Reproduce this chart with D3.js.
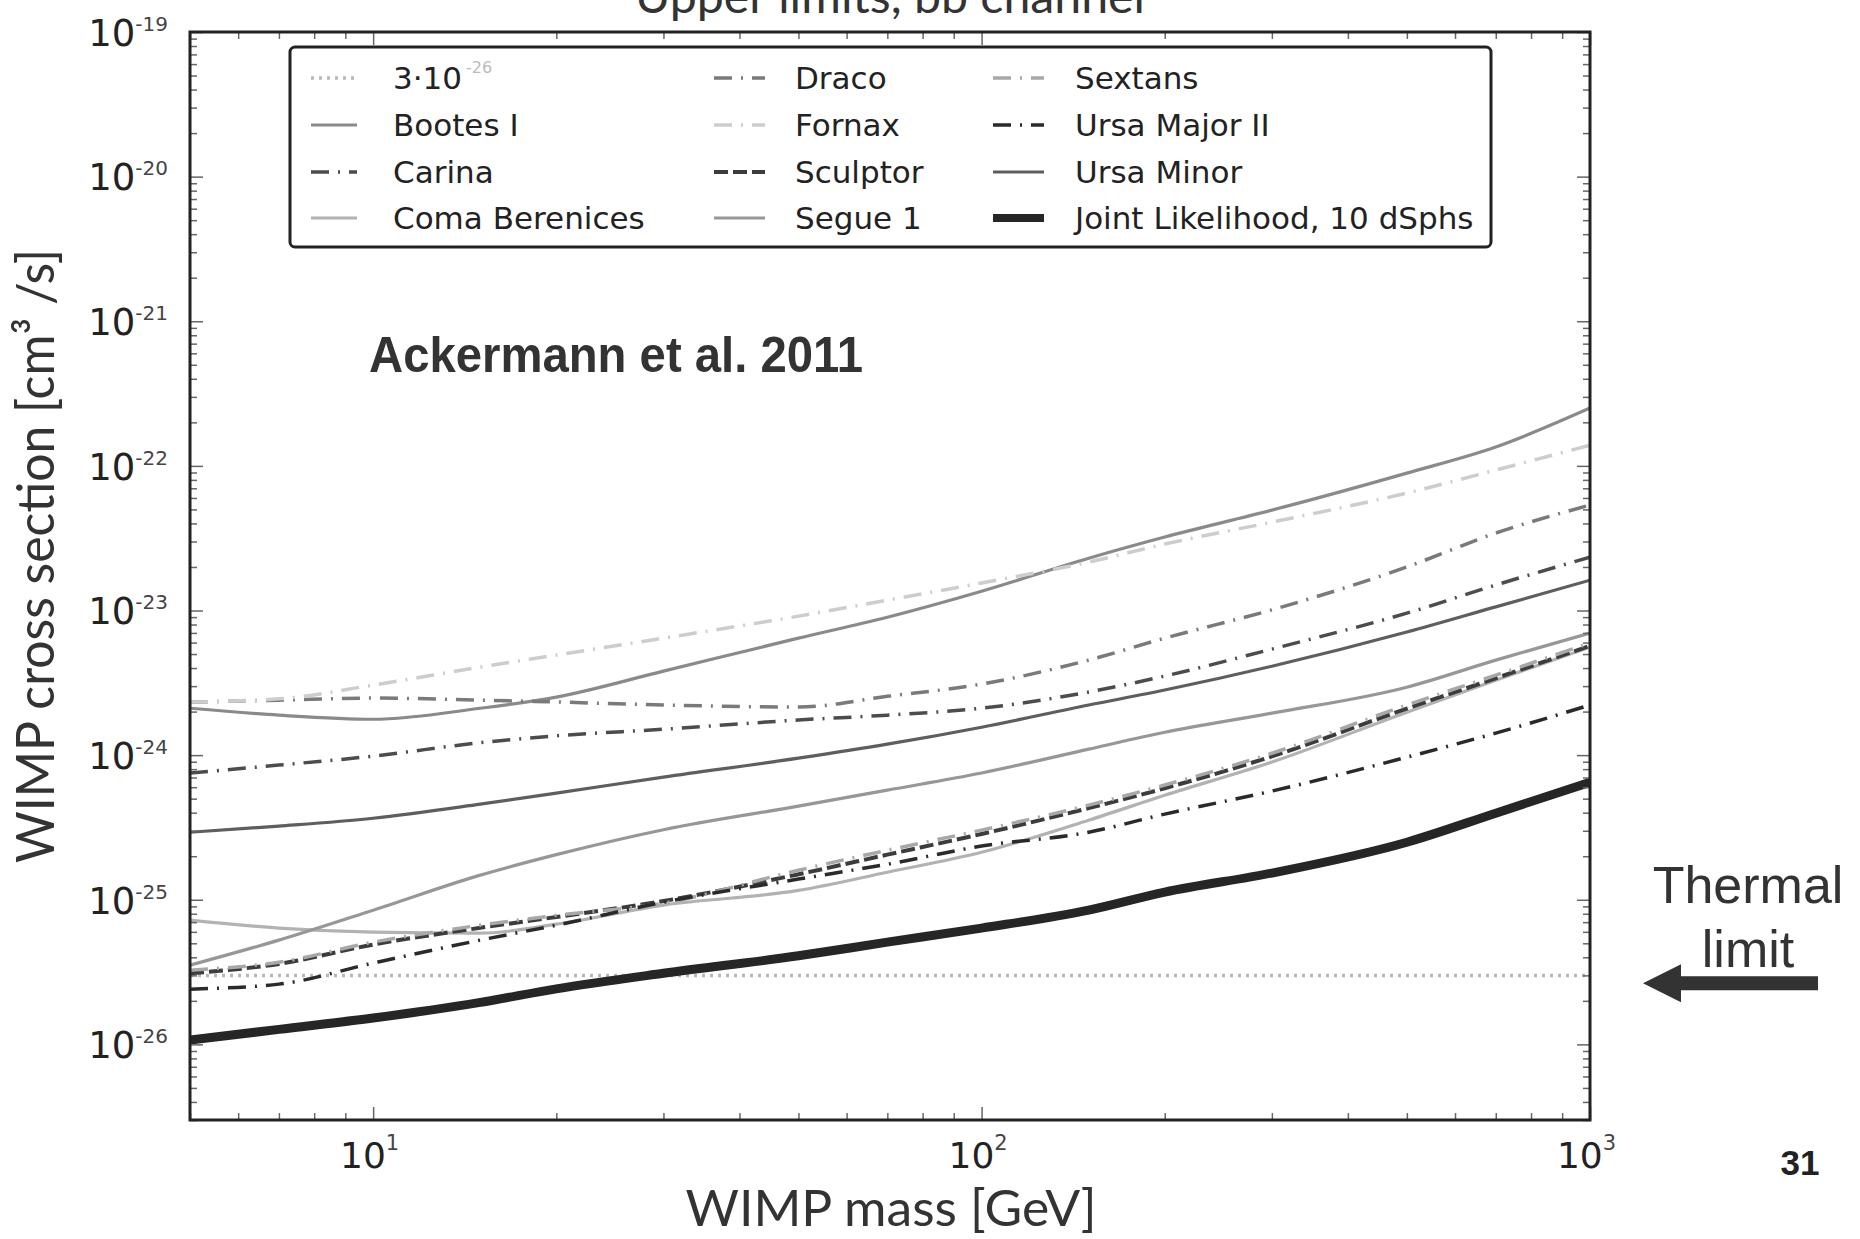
<!DOCTYPE html>
<html><head><meta charset="utf-8">
<script src="https://cdn.jsdelivr.net/npm/d3@7"></script>
<style>
html,body{margin:0;padding:0;background:#fff;}
svg{display:block;}
</style></head>
<body>
<svg id="chart" width="1860" height="1239"></svg>
<script>
// ---------------- DATA ----------------
const masses = [5, 7, 10, 15, 20, 30, 50, 70, 100, 150, 200, 300, 500, 700, 1000];
const bootesI      = [2.11e-24, 1.89e-24, 1.77e-24, 2.11e-24, 2.52e-24, 3.81e-24, 6.44e-24, 8.99e-24, 1.36e-23, 2.30e-23, 3.22e-23, 4.94e-23, 8.91e-23, 1.35e-22, 2.51e-22];
const carina       = [7.52e-25, 8.53e-25, 9.84e-25, 1.22e-24, 1.36e-24, 1.51e-24, 1.75e-24, 1.89e-24, 2.11e-24, 2.73e-24, 3.52e-24, 5.41e-24, 9.59e-24, 1.50e-23, 2.34e-23];
const comaBerenices= [7.23e-26, 6.37e-26, 5.97e-26, 5.87e-26, 6.78e-26, 9.18e-26, 1.16e-25, 1.55e-25, 2.13e-25, 3.55e-25, 5.28e-25, 8.95e-25, 1.98e-24, 3.30e-24, 5.58e-24];
const draco        = [2.33e-24, 2.40e-24, 2.48e-24, 2.40e-24, 2.33e-24, 2.22e-24, 2.15e-24, 2.55e-24, 3.10e-24, 4.54e-24, 6.44e-24, 1.01e-23, 2.00e-23, 3.43e-23, 5.36e-23];
const fornax       = [2.33e-24, 2.45e-24, 3.05e-24, 4.06e-24, 4.92e-24, 6.44e-24, 9.14e-24, 1.18e-23, 1.55e-23, 2.16e-23, 2.88e-23, 4.08e-23, 6.49e-23, 9.35e-23, 1.39e-22];
const sculptor     = [3.10e-26, 3.60e-26, 4.90e-26, 6.40e-26, 7.60e-26, 9.80e-26, 1.50e-25, 2.05e-25, 2.85e-25, 4.30e-25, 5.90e-25, 9.80e-25, 2.10e-24, 3.40e-24, 5.70e-24];
const segue1       = [3.53e-26, 5.26e-26, 8.47e-26, 1.48e-25, 2.05e-25, 3.05e-25, 4.44e-25, 5.73e-25, 7.52e-25, 1.10e-24, 1.44e-24, 1.95e-24, 2.95e-24, 4.54e-24, 6.98e-24];
const sextans      = [3.26e-26, 3.70e-26, 5.09e-26, 6.67e-26, 7.80e-26, 9.46e-26, 1.60e-25, 2.20e-25, 3.03e-25, 4.51e-25, 6.21e-25, 1.03e-24, 2.22e-24, 3.57e-24, 5.96e-24];
const ursaMajorII  = [2.41e-26, 2.61e-26, 3.65e-26, 5.26e-26, 6.67e-26, 9.62e-26, 1.39e-25, 1.76e-25, 2.35e-25, 2.93e-25, 3.91e-25, 5.64e-25, 9.68e-25, 1.42e-24, 2.22e-24];
const ursaMinor    = [2.93e-25, 3.23e-25, 3.66e-25, 4.58e-25, 5.46e-25, 7.05e-25, 9.53e-25, 1.19e-24, 1.56e-24, 2.22e-24, 2.82e-24, 4.12e-24, 7.10e-24, 1.06e-23, 1.62e-23];
const jointLikelihood = [1.07e-26, 1.27e-26, 1.52e-26, 1.95e-26, 2.42e-26, 3.10e-26, 4.10e-26, 5.09e-26, 6.37e-26, 8.48e-26, 1.13e-25, 1.53e-25, 2.50e-25, 3.97e-25, 6.50e-25];
const thermalMasses = [5, 1000];
const thermalValues = [3e-26, 3e-26];

const legendLabels = ["3\u00b710", "Bootes I", "Carina", "Coma Berenices",
                      "Draco", "Fornax", "Sculptor", "Segue 1",
                      "Sextans", "Ursa Major II", "Ursa Minor", "Joint Likelihood, 10 dSphs"];
const xMajorTicks = [10, 100, 1000];
const xTickExponents = ["1", "2", "3"];
const yMajorTicks = [1e-19, 1e-20, 1e-21, 1e-22, 1e-23, 1e-24, 1e-25, 1e-26];
const yTickExponents = ["-19", "-20", "-21", "-22", "-23", "-24", "-25", "-26"];
const xAxisTitle = "WIMP mass [GeV]";
const yAxisTitle = "WIMP cross section [cm\u00b3 /s]";
const titleText = "Upper limits, b\u0304b channel";
const annotationText = "Ackermann et al. 2011";
const thermalText = ["Thermal", "limit"];
const pageNumber = "31";

// ---------------- STYLES ----------------
const DASHDOT = "18,9,2,9";
const series = [
  {name: legendLabels[0], m: thermalMasses, v: thermalValues, color: "#b8b8b8", w: 3.5, dash: "3,5"},
  {name: legendLabels[1], m: masses, v: bootesI, color: "#8a8a8a", w: 3.2, dash: null},
  {name: legendLabels[2], m: masses, v: carina, color: "#4c4c4c", w: 3.5, dash: DASHDOT},
  {name: legendLabels[3], m: masses, v: comaBerenices, color: "#b2b2b2", w: 3.2, dash: null},
  {name: legendLabels[4], m: masses, v: draco, color: "#7a7a7a", w: 3.5, dash: DASHDOT},
  {name: legendLabels[5], m: masses, v: fornax, color: "#cdcdcd", w: 3.5, dash: DASHDOT},
  {name: legendLabels[6], m: masses, v: sculptor, color: "#3c3c3c", w: 4, dash: "14,5"},
  {name: legendLabels[7], m: masses, v: segue1, color: "#979797", w: 3.2, dash: null},
  {name: legendLabels[8], m: masses, v: sextans, color: "#a8a8a8", w: 3.5, dash: DASHDOT},
  {name: legendLabels[9], m: masses, v: ursaMajorII, color: "#2a2a2a", w: 3.5, dash: DASHDOT},
  {name: legendLabels[10], m: masses, v: ursaMinor, color: "#5e5e5e", w: 3.2, dash: null},
  {name: legendLabels[11], m: masses, v: jointLikelihood, color: "#262626", w: 9, dash: null}
];

// ---------------- LAYOUT ----------------
const PL = 190, PR = 1590, PT = 32, PB = 1120;
const svg = d3.select("#chart");
const x = d3.scaleLog().domain([5, 1000]).range([PL, PR]);
const y = d3.scaleLog().domain([3e-27, 1e-19]).range([PB, PT]);

svg.append("defs").append("clipPath").attr("id", "plotclip")
  .append("rect").attr("x", PL).attr("y", PT).attr("width", PR - PL).attr("height", PB - PT);

// partial title, cut by the top edge as in the reference
svg.append("text").attr("x", 890).attr("y", 13)
  .attr("text-anchor", "middle").attr("font-family", "Lato, 'Open Sans', sans-serif")
  .attr("font-size", 46).attr("fill", "#333")
  .attr("textLength", 510).attr("lengthAdjust", "spacingAndGlyphs")
  .text(titleText);

// curves
const line = d3.line().x(d => x(d[0])).y(d => y(d[1])).curve(d3.curveMonotoneX);
const curvesG = svg.append("g").attr("clip-path", "url(#plotclip)");
series.forEach(s => {
  const pts = s.m.map((mm, i) => [mm, s.v[i]]);
  curvesG.append("path").datum(pts)
    .attr("d", line).attr("fill", "none")
    .attr("stroke", s.color).attr("stroke-width", s.w)
    .attr("stroke-dasharray", s.dash)
    .attr("stroke-linecap", "butt")
    .attr("stroke-linejoin", "round");
});

// axes ticks (inward on all sides)
function minorLog(lo, hi) {
  const out = [];
  for (let e = Math.floor(Math.log10(lo)); e <= Math.ceil(Math.log10(hi)); e++) {
    for (let k = 2; k <= 9; k++) {
      const val = k * Math.pow(10, e);
      if (val >= lo * 0.999 && val <= hi * 1.001) out.push(val);
    }
  }
  return out;
}
const xMinor = minorLog(5, 1000).filter(v => !xMajorTicks.includes(v));
const yMinor = minorLog(3e-27, 1e-19);
const tickColor = "#666";
function styleAxis(g) {
  g.select(".domain").remove();
  g.selectAll(".tick line").attr("stroke", tickColor).attr("stroke-width", 1.5);
}
// minor
svg.append("g").attr("transform", `translate(0,${PB})`).call(d3.axisBottom(x).tickValues(xMinor).tickSize(-7).tickFormat("")).call(styleAxis);
svg.append("g").attr("transform", `translate(0,${PT})`).call(d3.axisTop(x).tickValues(xMinor).tickSize(-7).tickFormat("")).call(styleAxis);
svg.append("g").attr("transform", `translate(${PL},0)`).call(d3.axisLeft(y).tickValues(yMinor).tickSize(-7).tickFormat("")).call(styleAxis);
svg.append("g").attr("transform", `translate(${PR},0)`).call(d3.axisRight(y).tickValues(yMinor).tickSize(-7).tickFormat("")).call(styleAxis);
// major
svg.append("g").attr("transform", `translate(0,${PT})`).call(d3.axisTop(x).tickValues(xMajorTicks).tickSize(-13).tickFormat("")).call(styleAxis);
svg.append("g").attr("transform", `translate(${PR},0)`).call(d3.axisRight(y).tickValues(yMajorTicks).tickSize(-13).tickFormat("")).call(styleAxis);

const xAx = svg.append("g").attr("transform", `translate(0,${PB})`)
  .call(d3.axisBottom(x).tickValues(xMajorTicks).tickSize(-13).tickPadding(22).tickFormat(() => ""))
  .call(styleAxis);
xAx.selectAll(".tick text").each(function(d, i) {
  const t = d3.select(this);
  t.attr("font-family", "'DejaVu Sans', sans-serif").attr("font-size", 36).attr("fill", "#222")
   .attr("text-anchor", "middle").attr("dx", -4);
  t.text("10");
  t.append("tspan").attr("font-size", 21).attr("dy", -18).attr("fill", "#444").text(xTickExponents[i]);
});

const yAx = svg.append("g").attr("transform", `translate(${PL},0)`)
  .call(d3.axisLeft(y).tickValues(yMajorTicks).tickSize(-13).tickPadding(22).tickFormat(() => ""))
  .call(styleAxis);
yAx.selectAll(".tick text").each(function(d, i) {
  const t = d3.select(this);
  t.attr("font-family", "'DejaVu Sans', sans-serif").attr("font-size", 37).attr("fill", "#222")
   .attr("text-anchor", "end").attr("dy", "0.36em");
  t.text("10");
  t.append("tspan").attr("font-size", 20).attr("dy", -15).attr("fill", "#444").text(yTickExponents[i]);
});

// frame
svg.append("rect").attr("x", PL).attr("y", PT).attr("width", PR - PL).attr("height", PB - PT)
  .attr("fill", "none").attr("stroke", "#222").attr("stroke-width", 3);

// axis titles
svg.append("text").attr("x", 891).attr("y", 1226).attr("text-anchor", "middle")
  .attr("font-family", "Lato, 'Open Sans', sans-serif").attr("font-size", 50).attr("fill", "#333")
  .attr("textLength", 411).attr("lengthAdjust", "spacingAndGlyphs")
  .text(xAxisTitle);
svg.append("text").attr("transform", "translate(54,556) rotate(-90)").attr("text-anchor", "middle")
  .attr("font-family", "Lato, 'Open Sans', sans-serif").attr("font-size", 53).attr("fill", "#333")
  .attr("textLength", 614).attr("lengthAdjust", "spacingAndGlyphs")
  .text(yAxisTitle);

// annotation
svg.append("text").attr("x", 369).attr("y", 372)
  .attr("font-family", "'Liberation Sans', Arial, sans-serif").attr("font-weight", "bold")
  .attr("font-size", 50).attr("fill", "#333")
  .attr("textLength", 494).attr("lengthAdjust", "spacingAndGlyphs")
  .text(annotationText);

// legend
const LG = svg.append("g");
LG.append("rect").attr("x", 290).attr("y", 47).attr("width", 1201).attr("height", 200).attr("rx", 5)
  .attr("fill", "#fff").attr("stroke", "#222").attr("stroke-width", 3);
const colX = [{l0: 311, l1: 357, tx: 393}, {l0: 714, l1: 765, tx: 795}, {l0: 993, l1: 1044, tx: 1075}];
const rowY = [78, 125, 172, 218];
series.forEach((s, i) => {
  const c = colX[Math.floor(i / 4)], ry = rowY[i % 4];
  LG.append("line").attr("x1", c.l0).attr("x2", c.l1).attr("y1", ry).attr("y2", ry)
    .attr("stroke", s.color).attr("stroke-width", s.w > 5 ? 8 : s.w)
    .attr("stroke-dasharray", s.dash);
  const t = LG.append("text").attr("x", c.tx).attr("y", ry).attr("dy", "0.36em")
    .attr("font-family", "'DejaVu Sans', sans-serif").attr("font-size", 31).attr("fill", "#222")
    .text(s.name);
  if (i === 0) {
    t.append("tspan").attr("font-size", 16).attr("dy", -16).attr("dx", 4).attr("fill", "#bbb").text("-26");
  }
});

// thermal limit annotation
svg.append("text").attr("x", 1748).attr("y", 903).attr("text-anchor", "middle")
  .attr("font-family", "'Liberation Sans', Arial, sans-serif").attr("font-size", 52).attr("fill", "#333")
  .text(thermalText[0]);
svg.append("text").attr("x", 1748).attr("y", 967).attr("text-anchor", "middle")
  .attr("font-family", "'Liberation Sans', Arial, sans-serif").attr("font-size", 52).attr("fill", "#333")
  .text(thermalText[1]);
const ay = y(thermalValues[0]) + 8;
svg.append("path")
  .attr("d", `M1643,${ay} L1681,${ay - 19} L1681,${ay - 7} L1818,${ay - 7} L1818,${ay + 7} L1681,${ay + 7} L1681,${ay + 19} Z`)
  .attr("fill", "#333");

// page number
svg.append("text").attr("x", 1800).attr("y", 1175).attr("text-anchor", "middle")
  .attr("font-family", "'Liberation Sans', Arial, sans-serif").attr("font-weight", "bold")
  .attr("font-size", 35).attr("fill", "#222").text(pageNumber);
</script>
</body></html>
